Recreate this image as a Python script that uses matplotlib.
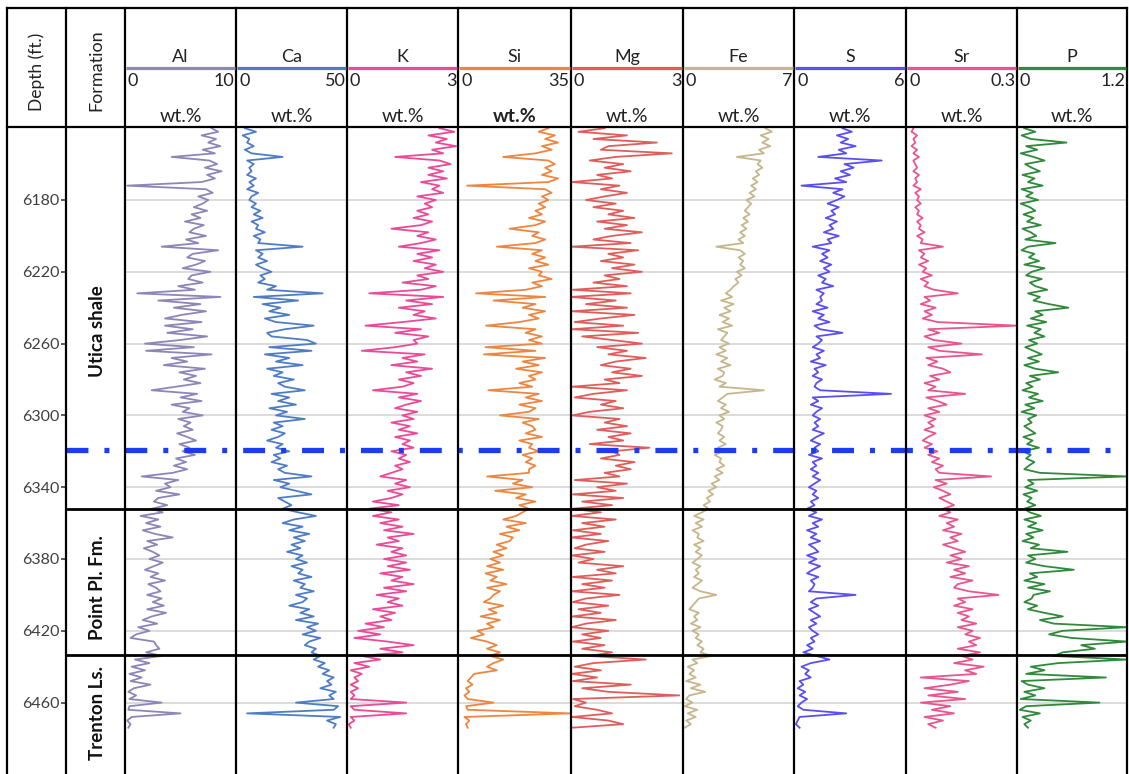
import numpy as np
import matplotlib
matplotlib.use("Agg")
import matplotlib.pyplot as plt

plt.rcParams['font.family'] = ['Lato', 'DejaVu Sans']
plt.rcParams['lines.scale_dashes'] = False

W, H = 1129, 774

# XRF log, sampled every 2 ft from 6140 ft
depth = np.arange(6140, 6476, 2)

al = [
    7.8, 8.4, 6.9, 8.2, 7.5, 8.6, 7.0, 8.1, 4.2, 7.6, 8.3, 7.2,
    8.7, 7.4, 8.1, 6.9, 0.2, 7.3, 7.9, 6.6, 7.5, 7.0, 6.2, 7.4,
    6.0, 6.8, 5.4, 7.1, 6.2, 5.8, 7.3, 5.5, 6.6, 3.3, 8.4, 6.1,
    5.6, 7.2, 6.4, 5.2, 7.7, 6.0, 5.7, 7.0, 4.8, 6.3, 1.1, 8.6,
    3.0, 6.8, 4.4, 7.3, 5.1, 3.6, 6.9, 3.6, 6.1, 3.8, 7.4, 5.0,
    1.8, 6.2, 1.9, 7.8, 4.2, 5.6, 3.5, 7.2, 4.9, 6.4, 5.3, 6.8,
    4.6, 2.4, 6.5, 5.0, 6.9, 4.2, 5.8, 5.2, 7.0, 4.8, 5.9, 5.3,
    6.1, 4.7, 5.6, 6.4, 4.9, 5.8, 5.2, 6.3, 4.6, 5.5, 4.4, 5.6,
    4.3, 1.5, 4.8, 3.6, 4.1, 2.8, 4.9, 3.0, 2.6, 3.8, 2.4, 3.4,
    1.4, 3.0, 1.9, 3.2, 1.6, 2.7, 4.3, 2.0, 2.9, 1.7, 2.5, 3.1,
    2.2, 3.4, 2.6, 1.8, 3.0, 2.3, 3.6, 2.1, 2.8, 3.2, 2.0, 3.3,
    2.5, 3.5, 2.0, 3.7, 2.4, 1.6, 2.9, 1.2, 2.2, 1.0, 0.5, 2.6,
    2.8, 3.1, 1.9, 3.3, 0.9, 2.2, 0.6, 1.8, 0.4, 1.5, 0.5, 2.3,
    0.8, 0.3, 1.0, 0.4, 3.3, 0.4, 0.3, 5.0, 0.6, 0.2, 0.5, 0.3,
]

ca = [
    4, 9, 3, 6, 5, 8, 4, 7, 21, 5, 8, 6,
    7, 5, 9, 6, 8, 5, 10, 7, 6, 9, 7, 11,
    8, 12, 7, 10, 9, 13, 8, 11, 10, 30, 9, 12,
    10, 14, 9, 12, 16, 11, 13, 10, 18, 14, 39, 8,
    28, 12, 20, 15, 24, 13, 18, 35, 22, 14, 16, 32,
    36, 15, 34, 13, 24, 18, 30, 14, 21, 17, 26, 19,
    22, 31, 16, 24, 19, 27, 15, 23, 18, 31, 17, 21,
    16, 22, 19, 14, 21, 18, 24, 17, 20, 16, 23, 19,
    22, 34, 17, 24, 20, 27, 34, 19, 22, 25, 21, 28,
    36, 26, 21, 30, 24, 33, 26, 31, 25, 29, 23, 30,
    27, 32, 25, 30, 28, 34, 26, 31, 29, 35, 27, 32,
    30, 24, 33, 29, 35, 27, 37, 32, 36, 30, 38, 33,
    31, 36, 34, 38, 35, 40, 37, 42, 39, 44, 41, 43,
    38, 45, 42, 44, 27, 46, 44, 5, 47, 41, 45, 44,
]

k = [
    2.5, 2.9, 2.2, 2.7, 2.4, 2.95, 2.3, 2.6, 1.3, 2.5, 2.8, 2.2,
    2.6, 2.2, 2.7, 2.0, 2.5, 2.3, 2.6, 1.9, 2.4, 2.1, 2.3, 1.9,
    2.2, 1.8, 2.3, 2.0, 1.2, 2.2, 1.9, 2.4, 2.0, 1.4, 2.5, 1.9,
    2.3, 1.8, 2.4, 2.1, 2.6, 1.9, 2.2, 1.5, 2.4, 2.0, 0.6, 2.6,
    1.6, 2.3, 1.4, 2.1, 1.8, 2.4, 1.5, 0.5, 2.0, 1.3, 2.2, 1.8,
    1.9, 1.3, 0.4, 2.1, 1.5, 1.9, 1.2, 2.3, 1.6, 2.0, 1.4, 1.8,
    1.5, 0.7, 1.9, 1.4, 2.0, 1.6, 1.3, 1.9, 1.5, 1.8, 1.2, 1.7,
    1.4, 1.9, 1.3, 1.7, 1.5, 1.8, 1.2, 1.6, 1.4, 1.7, 1.3, 1.5,
    1.2, 0.9, 1.6, 1.3, 1.7, 1.1, 1.5, 1.2, 0.7, 1.4, 0.6, 1.2,
    0.7, 1.4, 0.9, 1.5, 1.0, 1.8, 1.1, 1.4, 0.8, 1.5, 1.2, 1.6,
    1.0, 1.6, 1.1, 1.7, 0.9, 1.5, 1.2, 1.8, 1.0, 1.6, 0.8, 1.4,
    1.1, 1.5, 0.7, 1.3, 0.9, 1.2, 0.5, 1.0, 0.3, 0.9, 0.2, 1.1,
    1.8, 0.9, 1.5, 0.4, 0.9, 0.2, 0.6, 0.1, 0.4, 0.2, 0.3, 0.1,
    0.3, 0.1, 0.2, 0.1, 1.6, 0.1, 0.2, 1.6, 0.1, 0.2, 0.05, 0.1,
]

si = [
    28, 25, 30, 27, 31, 26, 29, 24, 14, 28, 30, 27,
    29, 26, 31, 28, 2.8, 27, 29, 26, 28, 25, 27, 24,
    26, 22, 27, 24, 16, 25, 23, 27, 24, 12, 26, 23,
    27, 24, 28, 22, 26, 25, 29, 23, 26, 21, 5.6, 27,
    11, 24, 20, 27, 22, 25, 19, 8.7, 24, 21, 26, 22,
    26, 8.5, 24, 8, 27, 20, 25, 18, 26, 22, 24, 19,
    23, 9.4, 25, 21, 26, 19, 24, 22, 13, 25, 20, 23,
    24, 21, 26, 19, 23, 22, 25, 20, 23, 21, 24, 22,
    22, 9, 20, 17, 23, 11.5, 21, 18, 24, 19, 22, 20,
    18, 14, 21, 15, 19, 13, 17, 16, 12, 15, 11, 14,
    10, 13, 9, 14, 8.5, 12, 10, 15, 9, 13, 11, 10,
    8, 14, 9.5, 12, 7, 13, 9, 11, 6, 8, 4, 9,
    12, 9, 13, 10, 14, 11, 9, 12, 5, 4, 3, 4.5,
    2.5, 3.5, 2, 3, 11, 2.5, 3, 34.7, 2, 3.5, 2.5, 3,
]

mg = [
    0.9, 0.2, 1.5, 0.6, 2.3, 1.0, 0.8, 2.7, 1.2, 0.5, 1.4, 0.9,
    1.6, 0.7, 1.1, 0.03, 1.3, 0.8, 1.5, 0.9, 0.4, 1.2, 0.6, 1.4,
    1.0, 1.7, 0.7, 1.5, 0.9, 1.9, 1.1, 0.6, 1.6, 0.0, 1.8, 1.0,
    1.4, 0.8, 1.7, 1.1, 1.9, 0.9, 1.3, 0.6, 1.5, 0.05, 1.6, 0.0,
    1.2, 0.4, 1.5, 0.02, 1.7, 0.8, 0.1, 1.4, 0.03, 1.8, 0.3, 1.1,
    1.9, 0.7, 1.5, 1.0, 2.0, 1.2, 0.8, 1.6, 1.1, 1.9, 0.9, 1.3,
    0.03, 1.5, 0.6, 0.1, 1.2, 0.8, 1.4, 0.5, 0.04, 1.3, 0.9, 1.5,
    0.7, 1.6, 1.0, 1.4, 0.5, 2.1, 1.1, 1.3, 0.8, 1.7, 1.2, 1.6,
    0.9, 1.3, 0.1, 1.5, 0.7, 1.2, 0.05, 1.4, 0.3, 1.1, 0.04, 0.8,
    0.02, 1.2, 0.3, 0.9, 0.05, 0.8, 0.02, 1.0, 0.4, 0.1, 0.9, 0.03,
    0.6, 0.2, 1.4, 0.7, 1.2, 0.05, 1.1, 0.3, 0.9, 0.02, 1.3, 0.4,
    0.05, 1.0, 0.2, 0.8, 0.03, 1.2, 0.4, 0.02, 1.0, 0.3, 0.8, 0.05,
    0.9, 0.3, 1.1, 0.5, 2.0, 0.6, 0.1, 0.8, 0.02, 0.7, 0.05, 1.6,
    0.3, 1.0, 2.9, 0.05, 0.4, 0.1, 0.7, 1.1, 0.03, 1.0, 1.4, 0.02,
]

fe = [
    5.2, 5.6, 4.9, 5.4, 5.0, 5.5, 4.8, 5.1, 3.4, 4.9, 4.7, 5.0,
    4.6, 4.8, 4.4, 4.7, 4.3, 4.6, 4.2, 4.5, 4.0, 4.3, 4.1, 3.9,
    4.2, 3.8, 4.1, 3.7, 4.0, 3.6, 3.9, 3.5, 3.8, 2.1, 3.6, 3.9,
    3.5, 3.8, 3.6, 3.9, 3.4, 3.7, 3.3, 3.5, 3.2, 3.0, 2.7, 3.1,
    2.4, 3.2, 2.6, 3.0, 2.3, 2.9, 2.5, 3.1, 2.2, 2.8, 2.6, 2.4,
    2.9, 2.3, 2.7, 2.1, 2.8, 2.4, 3.0, 2.2, 2.6, 2.5, 2.0, 2.7,
    2.3, 5.1, 2.8, 2.5, 2.2, 2.7, 2.4, 2.9, 2.3, 2.6, 2.1, 2.5,
    2.4, 2.2, 2.6, 2.3, 2.7, 2.2, 2.5, 2.0, 2.4, 2.3, 2.6, 2.1,
    2.5, 2.0, 2.3, 1.8, 2.1, 1.6, 1.9, 1.5, 1.7, 1.3, 1.6, 1.2,
    0.7, 1.3, 0.8, 1.2, 0.6, 1.0, 0.9, 1.3, 0.7, 1.1, 0.8, 1.2,
    0.9, 0.6, 1.1, 0.8, 1.0, 0.7, 1.2, 0.9, 0.6, 1.1, 2.1, 1.0,
    0.8, 0.6, 0.4, 1.0, 0.7, 0.9, 0.5, 1.1, 0.6, 1.0, 0.8, 1.2,
    0.9, 1.3, 1.1, 1.8, 0.6, 0.9, 0.3, 0.7, 0.4, 0.8, 0.2, 1.1,
    0.5, 1.4, 0.4, 0.2, 0.6, 0.1, 0.9, 0.3, 0.8, 0.2, 0.5, 0.1,
]

s = [
    2.6, 3.1, 2.3, 2.9, 2.5, 3.3, 2.4, 2.8, 1.3, 4.7, 2.7, 3.2,
    2.5, 3.0, 2.2, 2.8, 0.4, 2.6, 2.1, 2.7, 2.3, 1.8, 2.4, 2.0,
    2.2, 1.7, 2.3, 1.9, 2.1, 1.6, 2.4, 1.8, 2.0, 1.0, 1.9, 1.5,
    1.8, 1.4, 2.0, 1.6, 1.9, 1.3, 1.7, 1.5, 2.1, 1.2, 1.6, 1.4,
    1.5, 1.2, 1.8, 1.0, 1.6, 1.3, 1.9, 1.1, 1.4, 2.6, 1.2, 1.5,
    1.3, 1.0, 1.6, 1.2, 1.4, 0.9, 1.7, 1.1, 1.3, 1.0, 1.5, 1.2,
    1.1, 1.4, 5.2, 1.0, 1.3, 0.9, 1.5, 1.2, 1.0, 1.4, 1.1, 1.3,
    1.0, 1.6, 1.2, 0.9, 1.4, 1.1, 1.3, 0.8, 1.5, 1.0, 1.2, 0.9,
    1.3, 1.0, 1.4, 1.1, 0.8, 1.2, 1.0, 1.3, 0.9, 1.1, 0.7, 1.2,
    0.8, 1.5, 1.0, 1.3, 0.7, 1.2, 0.9, 1.4, 0.8, 1.1, 1.3, 0.7,
    1.2, 0.8, 1.4, 1.0, 0.7, 1.3, 0.9, 1.1, 1.0, 0.8, 3.3, 1.2,
    0.9, 1.3, 0.8, 1.1, 1.4, 0.9, 1.2, 0.8, 1.0, 1.3, 0.9, 1.1,
    0.7, 1.0, 0.5, 1.2, 1.9, 0.9, 0.4, 0.8, 0.6, 0.9, 0.3, 0.5,
    0.2, 0.6, 0.3, 0.7, 0.4, 0.2, 0.5, 2.8, 0.3, 0.2, 0.1, 0.3,
]

sr = [
    0.02, 0.015, 0.03, 0.02, 0.025, 0.015, 0.03, 0.02, 0.035, 0.02, 0.025, 0.03,
    0.02, 0.035, 0.025, 0.03, 0.02, 0.04, 0.025, 0.035, 0.03, 0.04, 0.025, 0.035,
    0.03, 0.045, 0.03, 0.04, 0.035, 0.05, 0.03, 0.045, 0.04, 0.10, 0.035, 0.05,
    0.04, 0.06, 0.035, 0.055, 0.045, 0.07, 0.04, 0.06, 0.05, 0.075, 0.14, 0.05,
    0.065, 0.04, 0.08, 0.05, 0.07, 0.045, 0.085, 0.3, 0.06, 0.09, 0.05, 0.075,
    0.15, 0.06, 0.09, 0.205, 0.055, 0.085, 0.06, 0.1, 0.12, 0.065, 0.09, 0.05,
    0.08, 0.06, 0.16, 0.055, 0.085, 0.11, 0.06, 0.09, 0.05, 0.08, 0.06, 0.075,
    0.05, 0.08, 0.06, 0.045, 0.07, 0.05, 0.085, 0.06, 0.09, 0.07, 0.1, 0.08,
    0.09, 0.23, 0.08, 0.11, 0.075, 0.1, 0.12, 0.09, 0.11, 0.13, 0.1, 0.12,
    0.09, 0.14, 0.11, 0.13, 0.1, 0.15, 0.12, 0.14, 0.1, 0.13, 0.16, 0.12,
    0.15, 0.11, 0.17, 0.13, 0.16, 0.12, 0.18, 0.14, 0.13, 0.17, 0.25, 0.14,
    0.16, 0.13, 0.18, 0.14, 0.17, 0.15, 0.19, 0.14, 0.18, 0.16, 0.2, 0.17,
    0.19, 0.14, 0.2, 0.15, 0.18, 0.13, 0.21, 0.16, 0.19, 0.04, 0.17, 0.12,
    0.05, 0.14, 0.06, 0.16, 0.04, 0.12, 0.07, 0.13, 0.05, 0.1, 0.06, 0.08,
]

p = [
    0.08, 0.2, 0.05, 0.15, 0.54, 0.1, 0.22, 0.04, 0.18, 0.3, 0.09, 0.16,
    0.25, 0.06, 0.19, 0.12, 0.28, 0.05, 0.17, 0.1, 0.23, 0.04, 0.14, 0.2,
    0.07, 0.18, 0.11, 0.26, 0.06, 0.15, 0.21, 0.09, 0.42, 0.12, 0.05, 0.19,
    0.13, 0.24, 0.08, 0.3, 0.16, 0.1, 0.27, 0.14, 0.2, 0.33, 0.12, 0.25,
    0.18, 0.35, 0.56, 0.2, 0.28, 0.15, 0.32, 0.11, 0.26, 0.19, 0.3, 0.13,
    0.22, 0.09, 0.18, 0.27, 0.12, 0.24, 0.08, 0.2, 0.45, 0.14, 0.25, 0.1,
    0.17, 0.06, 0.23, 0.13, 0.28, 0.09, 0.19, 0.05, 0.21, 0.12, 0.16, 0.08,
    0.14, 0.2, 0.07, 0.17, 0.11, 0.24, 0.06, 0.15, 0.1, 0.19, 0.13, 0.08,
    0.25, 1.2, 0.12, 0.18, 0.09, 0.22, 0.07, 0.16, 0.11, 0.2, 0.08, 0.14,
    0.26, 0.08, 0.21, 0.12, 0.28, 0.1, 0.18, 0.06, 0.24, 0.15, 0.55, 0.12,
    0.2, 0.1, 0.3, 0.62, 0.14, 0.22, 0.08, 0.3, 0.12, 0.36, 0.18, 0.16,
    0.08, 0.22, 0.12, 0.3, 0.5, 0.25, 0.4, 1.2, 0.5, 0.35, 0.6, 1.2,
    0.7, 0.85, 0.5, 0.4, 1.2, 0.45, 0.15, 0.3, 0.1, 0.97, 0.05, 0.12,
    0.3, 0.08, 0.2, 0.04, 0.9, 0.1, 0.03, 0.25, 0.06, 0.15, 0.08, 0.12,
]

elements = ["Al", "Ca", "K", "Si", "Mg", "Fe", "S", "Sr", "P"]
series = [al, ca, k, si, mg, fe, s, sr, p]
scale_max = [10, 50, 3, 35, 3, 7, 6, 0.3, 1.2]
scale_max_labels = ["10", "50", "3", "35", "3", "7", "6", "0.3", "1.2"]
colors = ["#8c86b9", "#4f7cc6", "#ea4a97", "#ec8641", "#df5e5b",
          "#c6b68c", "#5a4ff0", "#e8558f", "#2f8a3b"]

depth_ticks = [6180, 6220, 6260, 6300, 6340, 6380, 6420, 6460]
formations = ["Utica shale", "Point Pl. Fm.", "Trenton Ls."]
formation_mid = [6253, 6396, 6466]
formation_tops = [6352, 6433.5]
marker_depth = 6319

# depth range shown (6180 ft sits at 200 px, 1.795 px per ft)
d_top = 6180 - 73 / 1.795
d_bot = 6180 + 574 / 1.795

# column edges in pixels
track_x = [125, 236, 347, 458, 571, 683, 794, 906, 1017, 1127]
hdr_top, hdr_bot = 8, 127
txt = "#222222"

fig = plt.figure(figsize=(W / 100, H / 100), dpi=100)


def px_axes(x0, y0, x1, y1, **kw):
    return fig.add_axes([x0 / W, 1 - y1 / H, (x1 - x0) / W, (y1 - y0) / H], **kw)


for i, (name, vals, vmax) in enumerate(zip(elements, series, scale_max)):
    assert len(vals) == len(depth), name
    ax = px_axes(track_x[i], hdr_bot, track_x[i + 1], H)
    ax.set_xlim(0, vmax)
    ax.set_ylim(d_bot, d_top)
    ax.axis("off")
    for d in depth_ticks:
        ax.axhline(d, color="#d9d9d9", lw=1.3, zorder=0)
    ax.plot(vals, depth, color=colors[i], lw=1.3, zorder=2)

# formation column carries the depth ticks
fm = px_axes(66, hdr_bot, 125, H)
fm.set_xlim(0, 1)
fm.set_ylim(d_bot, d_top)
fm.patch.set_alpha(0)
for sp in fm.spines.values():
    sp.set_visible(False)
fm.set_xticks([])
fm.set_yticks(depth_ticks)
fm.set_yticklabels([str(d) for d in depth_ticks])
fm.tick_params(axis="y", direction="out", length=3.5, width=1.2, pad=1,
               labelsize=11.5, labelcolor="#404040", color="#404040")
for name, mid in zip(formations, formation_mid):
    fm.text(0.54, mid, name, rotation=90, ha="center", va="center",
            fontsize=13.5, fontweight="bold", color="#111111")

# formation tops and the dash-dot marker across all tracks
sec = px_axes(66, hdr_bot, 1127, H, zorder=5)
sec.set_xlim(0, 1)
sec.set_ylim(d_bot, d_top)
sec.axis("off")
for d in formation_tops:
    sec.axhline(d, color="black", lw=2.0)
sec.axhline(marker_depth, color="#1c3cf2", lw=3.8, solid_capstyle="butt",
            dash_capstyle="butt", dashes=(15.8, 11.5, 3.6, 11.5))

# frame and header in pixel space
ov = fig.add_axes([0, 0, 1, 1], zorder=6)
ov.set_xlim(0, W)
ov.set_ylim(H, 0)
ov.axis("off")
for x in [7, 66] + track_x:
    ov.plot([x, x], [hdr_top, H], color="black", lw=1.6, solid_capstyle="projecting")
for y in (hdr_top, hdr_bot):
    ov.plot([7, 1127], [y, y], color="black", lw=1.6)

ov.text(37, 72, "Depth (ft.)", rotation=90, ha="center", va="center", fontsize=12.5,
        color=txt)
ov.text(96, 70, "Formation", rotation=90, ha="center", va="center", fontsize=13,
        color=txt)

for i, name in enumerate(elements):
    x0, x1 = track_x[i], track_x[i + 1]
    cx = (x0 + x1) / 2
    ov.text(cx, 57, name, ha="center", va="center", fontsize=13, color=txt)
    ov.plot([x0 + 1, x1 - 1], [68, 68], color=colors[i], lw=2.3, solid_capstyle="butt")
    ov.text(x0 + 3, 81, "0", ha="left", va="center", fontsize=13, color=txt)
    ov.text(x1 - 1.5, 81, scale_max_labels[i], ha="right", va="center", fontsize=13,
            color=txt)
    ov.text(cx, 116, "wt.%", ha="center", va="center", fontsize=14, color=txt,
            fontweight="bold" if name == "Si" else "normal")

fig.savefig("out.png", dpi=100, facecolor="white")
